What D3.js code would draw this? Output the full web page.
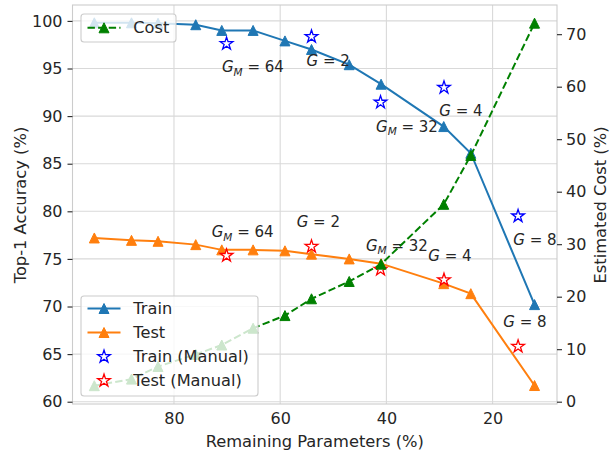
<!DOCTYPE html>
<html>
<head>
<meta charset="utf-8">
<script src="https://cdn.jsdelivr.net/npm/d3@7"></script>
<style>
  body { margin: 0; background: #fff; }
  text { font-family: "DejaVu Sans", sans-serif; fill: #262626; }
</style>
</head>
<body>
<div id="graph"></div>
<script>
// remaining parameters (%) for each pruning step
const params = [95.0, 88.0, 83.0, 75.9, 71.0, 65.1, 59.1, 54.1, 47.0, 41.0, 29.2, 24.1, 12.1];
const trainAcc = [99.8, 99.8, 99.75, 99.6, 99.0, 99.0, 97.9, 97.0, 95.4, 93.35, 88.9, 86.1, 70.2];
const testAcc = [77.2, 76.95, 76.85, 76.5, 75.95, 75.95, 75.85, 75.5, 75.0, 74.5, 72.4, 71.35, 61.7];
const cost = [3.05, 4.3, 6.7, 9.0, 10.8, 14.0, 16.4, 19.6, 22.9, 26.2, 37.6, 46.9, 72.1];

// manually designed networks
const manualParams = [70.1, 54.1, 41.1, 29.15, 15.2];
const manualTrain = [97.6, 98.35, 91.45, 93.0, 79.5];
const manualTest = [75.35, 76.3, 73.9, 72.8, 65.8];

// annotations (data coords of text)
const noteLabels = ["G_M = 64", "G = 2", "G_M = 32", "G = 4", "G = 8"];
const trainNoteX = [70.96, 55.04, 41.95, 30.03, 16.10];
const trainNoteY = [94.58, 95.29, 88.38, 90.04, 76.46];
const testNoteX = [72.9, 56.89, 43.84, 32.11, 17.98];
const testNoteY = [77.27, 78.32, 75.88, 74.81, 67.81];

const xTicks = [80, 60, 40, 20];
const yLeftTicks = [60, 65, 70, 75, 80, 85, 90, 95, 100];
const yRightTicks = [0, 10, 20, 30, 40, 50, 60, 70];

const width = 610, height = 450;
const plotLeft = 72.5, plotRight = 557, plotTop = 5, plotBottom = 404;

const blue = "#1f77b4", orange = "#ff7f0e", green = "#008000";

let svg = d3.select("#graph").
append("svg").
attr("width", width).
attr("height", height);

const x = d3.scaleLinear().domain([99.11, 7.87]).range([plotLeft, plotRight]);
const yL = d3.scaleLinear().domain([59.76, 101.67]).range([plotBottom, plotTop]);
const yR = d3.scaleLinear().domain([-0.44, 75.56]).range([plotBottom, plotTop]);

// grid
svg.append("g").
selectAll("line").
data(xTicks).
enter().
append("line").
attr("x1", d => x(d)).attr("x2", d => x(d)).
attr("y1", plotTop).attr("y2", plotBottom).
attr("stroke", "#d9d9d9").attr("stroke-width", 1.1);
svg.append("g").
selectAll("line").
data(yLeftTicks).
enter().
append("line").
attr("x1", plotLeft).attr("x2", plotRight).
attr("y1", d => yL(d)).attr("y2", d => yL(d)).
attr("stroke", "#d9d9d9").attr("stroke-width", 1.1);

// frame
svg.append("rect").
attr("x", plotLeft).attr("y", plotTop).
attr("width", plotRight - plotLeft).attr("height", plotBottom - plotTop).
attr("fill", "none").attr("stroke", "#cccccc").attr("stroke-width", 1.1);

// axes
const xAxis = d3.axisBottom(x).tickValues(xTicks).tickSize(0).tickPadding(9);
const yAxisL = d3.axisLeft(yL).tickValues(yLeftTicks).tickSize(5).tickPadding(5);
const yAxisR = d3.axisRight(yR).tickValues(yRightTicks).tickSize(5).tickPadding(4);

function styleAxis(g) {
  g.select(".domain").remove();
  g.selectAll("line").attr("stroke", "#262626").attr("stroke-width", 1.1);
  g.selectAll("text").attr("font-size", 16).attr("fill", "#262626").
  style("font-family", "DejaVu Sans");
}
svg.append("g").attr("transform", "translate(0," + plotBottom + ")").call(xAxis).call(styleAxis);
svg.append("g").attr("transform", "translate(" + plotLeft + ",0)").call(yAxisL).call(styleAxis);
svg.append("g").attr("transform", "translate(" + plotRight + ",0)").call(yAxisR).call(styleAxis);

svg.append("text").
attr("x", (plotLeft + plotRight) / 2).attr("y", 446.5).
attr("text-anchor", "middle").attr("font-size", 16.3).
text("Remaining Parameters (%)");
svg.append("text").
attr("transform", "translate(20,205) rotate(-90)").
attr("dy", "0.35em").
attr("text-anchor", "middle").attr("font-size", 16.3).
text("Top-1 Accuracy (%)");
svg.append("text").
attr("transform", "translate(600,205) rotate(-90)").
attr("dy", "0.35em").
attr("text-anchor", "middle").attr("font-size", 16.3).
text("Estimated Cost (%)");

const tri = "M0,-5L-5,5L5,5Z";
const star = d3.symbol().type(d3.symbolStar).size(50)();

function drawSeries(xs, ys, yScale, color, dashed) {
  const line = d3.line().x((d, i) => x(xs[i])).y(d => yScale(d));
  svg.append("path").
  datum(ys).
  attr("d", line).
  attr("fill", "none").
  attr("stroke", color).
  attr("stroke-width", 2).
  attr("stroke-dasharray", dashed ? "7.4,3.2" : null);
  svg.append("g").
  selectAll("path").
  data(ys).
  enter().
  append("path").
  attr("d", tri).
  attr("transform", (d, i) => "translate(" + x(xs[i]) + "," + yScale(d) + ")").
  attr("fill", color).
  attr("stroke", color).
  attr("stroke-width", 1);
}

function drawStars(ys, color) {
  svg.append("g").
  selectAll("path").
  data(ys).
  enter().
  append("path").
  attr("d", star).
  attr("transform", (d, i) => "translate(" + x(manualParams[i]) + "," + yL(d) + ")").
  attr("fill", "#fff").
  attr("stroke", color).
  attr("stroke-width", 1.3);
}

function drawNotes(xs, ys) {
  noteLabels.forEach((lab, i) => {
    const parts = lab.split(" = ");
    const sym = parts[0].split("_");
    const t = svg.append("text").
    attr("x", x(xs[i])).attr("y", yL(ys[i])).
    attr("font-size", 15);
    t.append("tspan").attr("font-style", "italic").text(sym[0]);
    if (sym[1]) {
      t.append("tspan").attr("font-style", "italic").attr("font-size", 10.5).attr("dy", 3.5).text(sym[1]);
      t.append("tspan").attr("dy", -3.5).text(" = " + parts[1]);
    } else {
      t.append("tspan").text(" = " + parts[1]);
    }
  });
}

drawSeries(params, trainAcc, yL, blue, false);
drawSeries(params, testAcc, yL, orange, false);
drawStars(manualTrain, "#0000ff");
drawStars(manualTest, "#ff0000");
drawNotes(trainNoteX, trainNoteY);
drawNotes(testNoteX, testNoteY);
drawSeries(params, cost, yR, green, true);

// legends
function legendBox(x0, y0, w, h) {
  svg.append("rect").
  attr("x", x0).attr("y", y0).attr("width", w).attr("height", h).
  attr("rx", 3).
  attr("fill", "#fff").attr("fill-opacity", 0.8).
  attr("stroke", "#cccccc").attr("stroke-width", 1.1);
}
function legendText(y0, label) {
  svg.append("text").
  attr("x", 133.3).attr("y", y0).attr("dy", "0.35em").
  attr("font-size", 16.2).
  text(label);
}
function legendLine(y0, color, dashed) {
  svg.append("line").
  attr("x1", 87.5).attr("x2", 120.5).attr("y1", y0).attr("y2", y0).
  attr("stroke", color).attr("stroke-width", 2).
  attr("stroke-dasharray", dashed ? "7.4,3.2" : null);
  svg.append("path").attr("d", tri).
  attr("transform", "translate(104," + y0 + ")").
  attr("fill", color).attr("stroke", color);
}
function legendStar(y0, color) {
  svg.append("path").attr("d", star).
  attr("transform", "translate(104," + y0 + ")").
  attr("fill", "#fff").attr("stroke", color).attr("stroke-width", 1.3);
}

legendBox(81, 14, 95, 28);
legendLine(27.8, green, true);
legendText(27.8, "Cost");

legendBox(81, 296, 177, 100);
legendLine(308.5, blue, false);
legendText(308.5, "Train");
legendLine(332.5, orange, false);
legendText(332.5, "Test");
legendStar(356.7, "#0000ff");
legendText(356.7, "Train (Manual)");
legendStar(380.7, "#ff0000");
legendText(380.7, "Test (Manual)");
</script>
</body>
</html>
